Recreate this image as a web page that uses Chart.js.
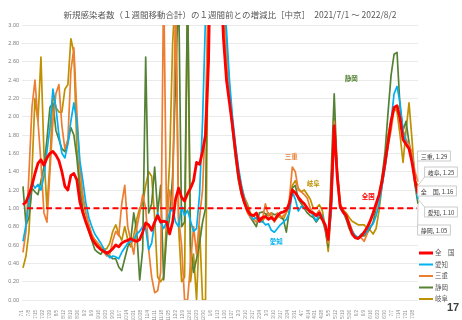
<!DOCTYPE html>
<html lang="ja">
<head>
<meta charset="utf-8">
<title>増減比 中京</title>
<script src="https://cdn.jsdelivr.net/npm/chart.js@4.4.1/dist/chart.umd.min.js"></script>
<style>
  body { margin: 0; background: #fff; }
  #wrap { width: 462px; height: 320px; }
</style>
</head>
<body>
<div id="wrap"><canvas id="ratioChart" width="462" height="320"></canvas></div>
<script>
// daily categories 2021/7/1 .. 2022/8/2, values read every 3 days starting 7/2
const startDate = new Date(2021, 6, 1);
const dayCount = 398;
const sampleStart = 1;
const sampleStep = 3;

const zenkoku = [
  1.04, 1.07, 1.15, 1.25, 1.38, 1.49, 1.53, 1.47, 1.55, 1.60,
  1.62, 1.58, 1.52, 1.40, 1.24, 1.20, 1.36, 1.38, 1.31, 1.07,
  0.95, 0.85, 0.76, 0.67, 0.62, 0.58, 0.55, 0.53, 0.51, 0.53,
  0.56, 0.60, 0.58, 0.62, 0.64, 0.65, 0.67, 0.65, 0.64, 0.66,
  0.74, 0.84, 0.82, 0.76, 0.85, 0.92, 0.85, 0.86, 0.85, 0.72,
  0.85, 1.10, 1.22, 1.12, 1.08, 1.16, 1.22, 1.30, 1.50, 1.48,
  1.62, 1.80, 2.60, 4.50, 6.00, 5.00, 3.60, 2.85, 2.40, 2.15,
  1.90, 1.62, 1.36, 1.18, 1.06, 0.98, 0.93, 0.92, 0.95, 0.86,
  0.90, 0.91, 0.88, 0.90, 0.87, 0.92, 0.95, 0.96, 0.98, 1.05,
  1.20, 1.17, 1.12, 1.08, 1.05, 1.00, 0.96, 0.95, 0.92, 0.95,
  0.88, 0.82, 0.66, 1.10, 1.90, 1.35, 1.02, 0.96, 0.92, 0.82,
  0.72, 0.68, 0.67, 0.70, 0.74, 0.79, 0.86, 0.95, 1.05, 1.15,
  1.30, 1.50, 1.72, 1.95, 2.10, 2.12, 1.98, 1.75, 1.70, 1.65,
  1.50, 1.30, 1.16
];
const aichi = [
  0.64, 0.82, 1.08, 1.28, 1.22, 1.26, 1.20, 1.35, 1.62, 1.88,
  2.30, 2.10, 1.80, 1.60, 1.55, 1.70, 1.95, 2.15, 1.95, 1.52,
  1.30, 1.06, 0.90, 0.80, 0.72, 0.67, 0.62, 0.56, 0.50, 0.46,
  0.48, 0.47, 0.45, 0.52, 0.57, 0.62, 0.64, 0.66, 0.72, 0.75,
  0.80, 0.78, 0.55, 0.62, 0.85, 0.95, 0.85, 0.78, 0.85, 0.95,
  1.00, 0.85, 0.80, 1.02, 0.92, 0.98, 0.86, 0.75, 0.78, 1.15,
  1.95, 3.10, 4.50, 6.00, 6.50, 5.00, 3.80, 3.30, 2.95, 2.40,
  2.00, 1.70, 1.45, 1.25, 1.10, 1.00, 0.92, 0.88, 0.90, 0.85,
  0.86, 0.82, 0.83, 0.76, 0.74, 0.78, 0.82, 0.85, 0.88, 0.95,
  1.18, 1.10, 0.97, 1.02, 1.00, 0.99, 0.97, 0.92, 0.86, 0.95,
  0.92, 0.80, 0.66, 0.95, 1.85, 1.40, 1.00, 0.95, 0.91, 0.83,
  0.75, 0.70, 0.68, 0.72, 0.72, 0.75, 0.80, 0.83, 0.92, 1.05,
  1.25, 1.45, 1.70, 1.95, 2.25, 2.33, 2.15, 1.85, 1.72, 1.65,
  1.55, 1.30, 1.10
];
const mie = [
  0.52, 0.75, 1.38, 2.10, 2.40, 1.95, 1.50, 0.95, 0.85, 1.40,
  1.95, 2.25, 2.35, 1.90, 1.65, 1.75, 2.50, 2.75, 2.05, 1.45,
  1.15, 0.95, 0.82, 0.72, 0.65, 0.62, 0.55, 0.52, 0.48, 0.50,
  0.65, 0.75, 0.70, 1.05, 1.25, 0.80, 0.65, 0.50, 0.78, 0.95,
  1.15, 1.00, 0.55, 0.25, 0.08, 0.10, 0.30, 3.50, 0.80, 1.20,
  1.00, 3.40, 0.90, 0.60, 0.00, 0.00, 0.40, 0.80, 0.50, 0.90,
  1.20, 2.00, 3.60, 5.00, 7.00, 6.00, 4.50, 3.20, 2.70, 2.25,
  1.95, 1.65, 1.35, 1.15, 1.05, 0.95, 0.90, 0.88, 0.85, 0.90,
  0.88, 1.05, 0.92, 0.95, 0.85, 0.95, 0.90, 0.92, 0.95, 1.10,
  1.45, 1.40, 1.20, 1.18, 1.15, 1.11, 1.00, 0.95, 0.93, 0.98,
  0.90, 0.80, 0.62, 1.05, 1.95, 1.30, 1.00, 0.96, 0.90, 0.85,
  0.76, 0.70, 0.68, 0.68, 0.64, 0.72, 0.85, 0.95, 1.00, 1.10,
  1.25, 1.45, 1.68, 1.85, 2.08, 2.08, 2.00, 1.85, 1.75, 1.70,
  1.60, 1.40, 1.29
];
const shizuoka = [
  1.24, 0.82, 0.90, 1.22, 1.18, 1.15, 1.30, 1.45, 1.75, 2.10,
  2.15, 1.85, 1.75, 1.65, 1.62, 1.72, 1.88, 1.80, 1.55, 1.20,
  1.00, 0.85, 0.75, 0.65, 0.55, 0.52, 0.50, 0.55, 0.52, 0.48,
  0.45, 0.45, 0.36, 0.32, 0.45, 0.58, 0.65, 0.95, 0.75, 0.22,
  0.55, 2.65, 0.95, 1.05, 1.45, 0.95, 1.25, 0.22, 0.70, 0.90,
  1.35, 2.40, 3.40, 0.80, 0.85, 3.40, 0.60, 0.30, 0.45, 0.62,
  0.85, 1.00, 3.50, 5.00, 7.00, 6.00, 4.00, 3.20, 2.70, 2.20,
  1.85, 1.55, 1.30, 1.15, 1.05, 0.98, 0.90, 0.85, 0.80, 0.95,
  0.96, 0.94, 0.92, 0.95, 0.93, 0.94, 0.90, 0.88, 0.74, 0.98,
  1.22, 1.25, 1.10, 1.05, 1.00, 0.95, 0.92, 0.90, 0.85, 0.90,
  0.88, 0.76, 0.58, 1.40, 2.25, 1.40, 1.00, 0.96, 0.88, 0.78,
  0.72, 0.70, 0.68, 0.70, 0.70, 0.73, 0.78, 0.85, 1.00, 1.15,
  1.35, 1.62, 2.05, 2.45, 2.68, 2.70, 2.10, 1.85, 1.95, 1.72,
  1.55, 1.25, 1.05
];
const gifu = [
  0.35, 0.48, 0.75, 1.40, 2.20, 1.95, 2.65, 1.60, 1.00, 1.50,
  2.25, 2.10, 2.05, 2.05, 2.30, 2.35, 2.85, 2.70, 1.65, 1.30,
  1.10, 0.95, 0.82, 0.70, 0.66, 0.62, 0.58, 0.55, 0.56, 0.62,
  0.75, 0.82, 0.72, 0.65, 0.80, 0.66, 0.58, 0.70, 0.88, 1.00,
  1.05, 1.25, 1.40, 1.35, 0.90, 0.25, 0.20, 0.25, 0.90, 1.50,
  2.80, 3.40, 0.80, 0.20, 0.25, 3.50, 0.20, 0.50, 0.00, 0.80,
  0.00, 0.00, 3.50, 5.00, 8.00, 6.00, 4.00, 3.30, 2.80, 2.30,
  1.95, 1.65, 1.40, 1.25, 1.12, 1.05, 0.95, 0.92, 0.88, 0.88,
  0.85, 0.92, 0.95, 0.90, 0.86, 0.90, 0.92, 0.88, 0.95, 1.05,
  1.25, 1.30, 1.22, 1.18, 1.20, 1.15, 1.10, 1.00, 1.00, 1.04,
  0.98, 0.80, 0.53, 1.00, 1.98, 1.45, 1.05, 0.98, 0.95, 0.90,
  0.86, 0.84, 0.82, 0.82, 0.82, 0.78, 0.76, 0.72, 0.78, 0.98,
  1.25, 1.55, 1.80, 1.95, 2.10, 2.05, 1.80, 1.50, 1.85, 2.15,
  1.75, 1.30, 1.25
];

const seriesNames = ['全　国', '愛知', '三重', '静岡', '岐阜'];
const seriesColors = ['#ff0000', '#00b0f0', '#ed7d31', '#548235', '#bf9000'];
const seriesWidths = [2.8, 1.7, 1.7, 1.7, 1.7];
const seriesValues = [zenkoku, aichi, mie, shizuoka, gifu];

const yTicks = { min: 0, max: 3, step: 0.1 };
const baseline = 1.0;

// in-plot text labels: [name, colorIndex, day index, value]
const inlineLabels = [
  ['三重', 2, 270, 1.57],
  ['岐阜', 4, 292, 1.27],
  ['静岡', 3, 330, 2.42],
  ['全国', 0, 347, 1.13],
  ['愛知', 1, 255, 0.64]
];
// end callouts: series index, box centre (px)
const callouts = [
  [2, 434, 156],
  [4, 441, 172],
  [0, 437, 191],
  [1, 441, 212],
  [3, 434, 230]
];

const labels = [];
for (let i = 0; i < dayCount; i++) {
  const d = new Date(startDate.getFullYear(), startDate.getMonth(), startDate.getDate() + i);
  labels.push((d.getMonth() + 1) + '/' + d.getDate());
}

function expand(values) {
  const out = new Array(dayCount).fill(null);
  values.forEach((v, k) => { out[sampleStart + k * sampleStep] = v; });
  return out;
}

const jpFont = '"Noto Sans CJK JP", "Noto Sans", sans-serif';

const decorations = {
  id: 'decorations',
  afterDatasetsDraw(chart) {
    const ctx = chart.ctx;
    const ca = chart.chartArea;
    const xs = chart.scales.x;
    const ys = chart.scales.y;
    ctx.save();

    // 1.00 reference line
    ctx.strokeStyle = '#ff0000';
    ctx.lineWidth = 2;
    ctx.setLineDash([6, 3.5]);
    const yb = ys.getPixelForValue(baseline);
    ctx.beginPath();
    ctx.moveTo(ca.left + 5, yb);
    ctx.lineTo(ca.right - 1, yb);
    ctx.stroke();
    ctx.setLineDash([]);

    // series labels inside the plot
    ctx.font = 'bold 6.5px ' + jpFont;
    ctx.textAlign = 'center';
    ctx.textBaseline = 'middle';
    inlineLabels.forEach(([txt, ci, idx, v]) => {
      ctx.fillStyle = seriesColors[ci];
      ctx.fillText(txt, xs.getPixelForValue(idx), ys.getPixelForValue(v));
    });

    // end value callouts
    const lastIdx = sampleStart + (zenkoku.length - 1) * sampleStep;
    ctx.font = '6px ' + jpFont;
    callouts.forEach(([si, cx, cy]) => {
      const vals = seriesValues[si];
      const last = vals[vals.length - 1];
      const px = xs.getPixelForValue(lastIdx);
      const py = ys.getPixelForValue(last);
      const txt = seriesNames[si] + ', ' + last.toFixed(2);
      const w = ctx.measureText(txt).width + 6;
      const h = 10;
      const bx = cx - w / 2, by = cy - h / 2;
      ctx.strokeStyle = '#bfbfbf';
      ctx.lineWidth = 0.8;
      ctx.beginPath();
      ctx.moveTo(bx, Math.min(Math.max(py, by), by + h));
      ctx.lineTo(px, py);
      ctx.stroke();
      ctx.fillStyle = '#fff';
      ctx.fillRect(bx, by, w, h);
      ctx.strokeRect(bx, by, w, h);
      ctx.fillStyle = '#404040';
      ctx.fillText(txt, cx, cy + 0.5);
    });
    ctx.restore();
  },
  afterDraw(chart) {
    const ctx = chart.ctx;
    ctx.save();
    // title
    ctx.fillStyle = '#595959';
    ctx.font = '8.5px ' + jpFont;
    ctx.textAlign = 'center';
    ctx.textBaseline = 'middle';
    ctx.fillText('新規感染者数（１週間移動合計）の１週間前との増減比［中京］　2021/7/1 ～ 2022/8/2', 230, 15);

    // legend
    ctx.textAlign = 'left';
    ctx.font = '6.5px ' + jpFont;
    seriesNames.forEach((name, i) => {
      const y = 253 + i * 11.5;
      ctx.strokeStyle = seriesColors[i];
      ctx.lineWidth = i === 0 ? 3 : 2;
      ctx.beginPath();
      ctx.moveTo(419, y);
      ctx.lineTo(433, y);
      ctx.stroke();
      ctx.fillStyle = '#595959';
      ctx.fillText(name, 435, y);
    });

    // page number
    ctx.fillStyle = '#404040';
    ctx.font = 'bold 11px "Liberation Sans", sans-serif';
    ctx.fillText('17', 447, 308);
    ctx.restore();
  }
};

new Chart(document.getElementById('ratioChart'), {
  type: 'line',
  data: {
    labels: labels,
    datasets: seriesNames.map((name, i) => ({
      label: name,
      data: expand(seriesValues[i]),
      borderColor: seriesColors[i],
      borderWidth: seriesWidths[i],
      pointRadius: 0,
      tension: 0,
      spanGaps: true,
      borderJoinStyle: 'round'
    }))
  },
  options: {
    responsive: false,
    animation: false,
    layout: { padding: { top: 25, right: 44, left: 0, bottom: 0 } },
    plugins: {
      legend: { display: false },
      title: { display: false },
      tooltip: { enabled: false }
    },
    scales: {
      x: {
        offset: false,
        grid: { display: false },
        border: { display: false },
        afterFit: s => { s.height = 20; },
        ticks: {
          autoSkip: false,
          minRotation: 90,
          maxRotation: 90,
          padding: 2,
          color: '#8c8c8c',
          font: { size: 4.5, family: 'Liberation Sans' },
          callback: function (val, idx) {
            return idx % 7 === 0 ? this.getLabelForValue(val) : null;
          }
        }
      },
      y: {
        min: yTicks.min,
        max: yTicks.max,
        afterFit: s => { s.width = 22; },
        border: { display: false },
        grid: { color: '#e4e4e4', lineWidth: 0.8, drawTicks: false },
        ticks: {
          stepSize: yTicks.step,
          padding: 3,
          color: '#7f7f7f',
          font: { size: 5.5, family: 'Liberation Sans' },
          callback: v => v.toFixed(2)
        }
      }
    }
  },
  plugins: [decorations]
});
</script>
</body>
</html>
